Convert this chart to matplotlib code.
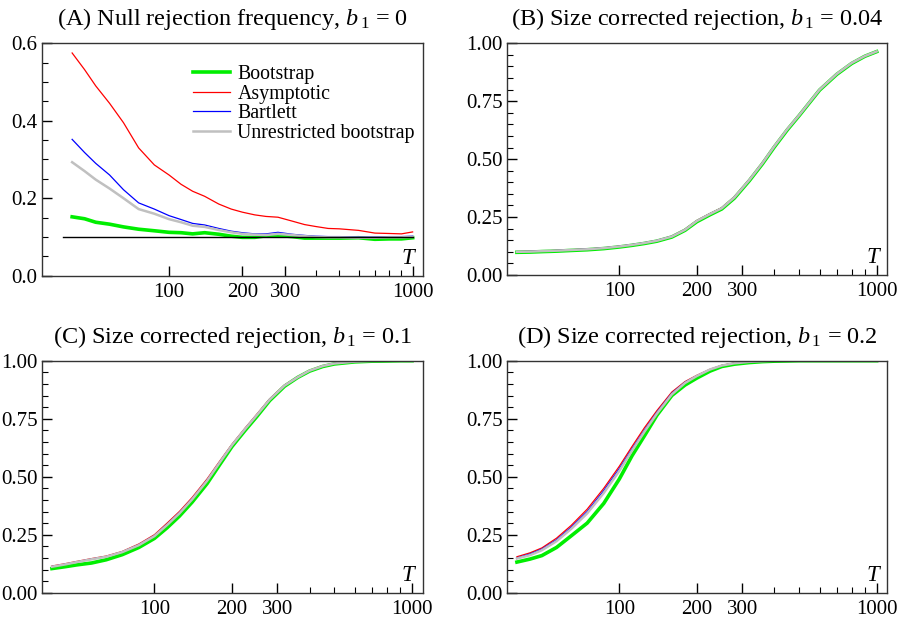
import matplotlib
matplotlib.use("Agg")
import matplotlib.pyplot as plt
from matplotlib.ticker import FixedLocator, NullFormatter, MultipleLocator, FormatStrFormatter

plt.rcParams['font.family'] = ['Liberation Serif', 'DejaVu Serif']
plt.rcParams['mathtext.fontset'] = 'custom'
plt.rcParams['mathtext.rm'] = 'Liberation Serif'
plt.rcParams['mathtext.it'] = 'Liberation Serif:italic'

# sample sizes
T = [40, 45, 50, 57, 65, 75, 87, 100, 112, 125, 140, 160, 180, 200, 225,
     250, 280, 320, 360, 400, 450, 500, 600, 700, 800, 900, 1000]

# (A) null rejection frequency
a_boot = [0.152, 0.147, 0.138, 0.133, 0.126, 0.120, 0.116, 0.112, 0.111, 0.108, 0.111, 0.107, 0.102, 0.099,
          0.099, 0.103, 0.104, 0.101, 0.097, 0.097, 0.097, 0.097, 0.098, 0.094, 0.095, 0.095, 0.098]
a_asym = [0.575, 0.532, 0.490, 0.445, 0.395, 0.330, 0.286, 0.260, 0.236, 0.218, 0.205, 0.185, 0.172, 0.164,
          0.157, 0.153, 0.151, 0.141, 0.132, 0.127, 0.122, 0.121, 0.117, 0.110, 0.109, 0.108, 0.113]
a_bart = [0.352, 0.318, 0.290, 0.260, 0.222, 0.188, 0.172, 0.155, 0.145, 0.135, 0.131, 0.122, 0.115, 0.111,
          0.108, 0.108, 0.112, 0.107, 0.104, 0.102, 0.101, 0.101, 0.100, 0.100, 0.101, 0.101, 0.102]
a_unres = [0.293, 0.270, 0.248, 0.225, 0.200, 0.172, 0.160, 0.146, 0.138, 0.129, 0.126, 0.118, 0.112, 0.108,
           0.106, 0.105, 0.108, 0.105, 0.102, 0.100, 0.099, 0.099, 0.098, 0.098, 0.099, 0.099, 0.100]
nominal = 0.1

# (B) size corrected, b1 = 0.04
b_boot = [0.098, 0.099, 0.101, 0.103, 0.106, 0.109, 0.114, 0.121, 0.128, 0.136, 0.146, 0.164, 0.193, 0.230,
          0.260, 0.285, 0.332, 0.407, 0.480, 0.552, 0.627, 0.688, 0.798, 0.866, 0.913, 0.944, 0.964]
b_asym = [0.101, 0.102, 0.104, 0.106, 0.109, 0.112, 0.117, 0.124, 0.131, 0.139, 0.149, 0.167, 0.197, 0.235,
          0.265, 0.290, 0.337, 0.412, 0.485, 0.556, 0.631, 0.691, 0.800, 0.868, 0.915, 0.945, 0.965]
b_bart = [0.101, 0.102, 0.104, 0.106, 0.109, 0.112, 0.117, 0.124, 0.131, 0.139, 0.149, 0.167, 0.196, 0.234,
          0.264, 0.289, 0.336, 0.411, 0.484, 0.555, 0.630, 0.690, 0.800, 0.868, 0.915, 0.945, 0.965]
b_unres = [0.100, 0.101, 0.103, 0.105, 0.108, 0.111, 0.116, 0.123, 0.130, 0.138, 0.148, 0.166, 0.195, 0.233,
           0.263, 0.288, 0.335, 0.410, 0.483, 0.555, 0.630, 0.690, 0.800, 0.868, 0.915, 0.945, 0.965]

# (C) size corrected, b1 = 0.1
c_boot = [0.104, 0.112, 0.120, 0.128, 0.142, 0.164, 0.195, 0.234, 0.280, 0.330, 0.390, 0.470, 0.555, 0.630,
          0.700, 0.760, 0.828, 0.890, 0.928, 0.955, 0.975, 0.986, 0.995, 0.998, 0.999, 1.000, 1.000]
c_asym = [0.115, 0.125, 0.135, 0.147, 0.158, 0.178, 0.210, 0.250, 0.300, 0.350, 0.410, 0.490, 0.570, 0.640,
          0.710, 0.770, 0.835, 0.895, 0.930, 0.958, 0.978, 0.988, 0.996, 0.999, 1.000, 1.000, 1.000]
c_bart = [0.113, 0.123, 0.133, 0.145, 0.156, 0.176, 0.207, 0.246, 0.295, 0.345, 0.405, 0.485, 0.566, 0.637,
          0.707, 0.767, 0.833, 0.894, 0.929, 0.957, 0.977, 0.988, 0.996, 0.999, 1.000, 1.000, 1.000]
c_unres = [0.112, 0.122, 0.132, 0.144, 0.155, 0.175, 0.205, 0.244, 0.292, 0.342, 0.402, 0.482, 0.564, 0.636,
           0.706, 0.766, 0.832, 0.893, 0.929, 0.957, 0.977, 0.988, 0.996, 0.999, 1.000, 1.000, 1.000]

# (D) size corrected, b1 = 0.2
d_boot = [0.132, 0.145, 0.160, 0.195, 0.245, 0.300, 0.385, 0.490, 0.590, 0.675, 0.765, 0.850, 0.895, 0.925,
          0.955, 0.975, 0.985, 0.992, 0.996, 0.998, 0.999, 1.000, 1.000, 1.000, 1.000, 1.000, 1.000]
d_asym = [0.155, 0.172, 0.193, 0.235, 0.290, 0.360, 0.450, 0.545, 0.630, 0.710, 0.785, 0.865, 0.910, 0.937,
          0.963, 0.980, 0.990, 0.996, 0.998, 1.000, 1.000, 1.000, 1.000, 1.000, 1.000, 1.000, 1.000]
d_bart = [0.150, 0.167, 0.188, 0.228, 0.282, 0.350, 0.440, 0.535, 0.620, 0.700, 0.778, 0.860, 0.907, 0.935,
          0.962, 0.979, 0.989, 0.995, 0.998, 1.000, 1.000, 1.000, 1.000, 1.000, 1.000, 1.000, 1.000]
d_unres = [0.147, 0.162, 0.183, 0.222, 0.275, 0.342, 0.430, 0.525, 0.612, 0.693, 0.772, 0.855, 0.904, 0.934,
           0.962, 0.979, 0.989, 0.995, 0.998, 1.000, 1.000, 1.000, 1.000, 1.000, 1.000, 1.000, 1.000]

labels = ["Bootstrap", "Asymptotic", "Bartlett", "Unrestricted bootstrap"]
colors = ["#00ee00", "#ff0000", "#0000ff", "#c0c0c0"]
widths = [2.6, 0.9, 0.9, 1.8]

titles = [r"(A) Null rejection frequency, $b_{\,1}$ = 0",
          r"(B) Size corrected rejection, $b_{\,1}$ = 0.04",
          r"(C) Size corrected rejection, $b_{\,1}$ = 0.1",
          r"(D) Size corrected rejection, $b_{\,1}$ = 0.2"]
panels = [[a_boot, a_asym, a_bart, a_unres],
          [b_boot, b_asym, b_bart, b_unres],
          [c_boot, c_asym, c_bart, c_unres],
          [d_boot, d_asym, d_bart, d_unres]]

fig = plt.figure(figsize=(9, 6.21), dpi=100)
W, H = 900, 621
boxes = [(41.7, 43.3, 422.7, 275.7), (506.7, 43.3, 887.3, 275.0),
         (41.7, 360.7, 422.7, 592.7), (506.7, 360.7, 887.3, 592.7)]

for i, (series, title, box) in enumerate(zip(panels, titles, boxes)):
    x0, y0, x1, y1 = box
    ax = fig.add_axes([x0 / W, 1 - y1 / H, (x1 - x0) / W, (y1 - y0) / H])
    for ys, lab, c, lw in zip(series, labels, colors, widths):
        ax.plot(T, ys, color=c, lw=lw, label=lab)
    ax.set_xscale('log')
    if i == 0:
        ax.plot([36.8, 1000], [nominal, nominal], color='black', lw=1.0)
        ax.set_xlim(30, 1100)
        ax.set_ylim(0, 0.6)
        ax.yaxis.set_major_locator(MultipleLocator(0.2))
        ax.yaxis.set_minor_locator(MultipleLocator(0.05))
        ax.yaxis.set_major_formatter(FormatStrFormatter('%.1f'))
        ax.legend(loc='upper left', bbox_to_anchor=(0.36, 0.965), frameon=False,
                  fontsize=14.3, handlelength=1.85, handletextpad=0.4,
                  labelspacing=0.02, borderpad=0.2)
    else:
        ax.set_xlim(36.5, 1100)
        ax.set_ylim(0, 1.0)
        ax.yaxis.set_major_locator(MultipleLocator(0.25))
        ax.yaxis.set_minor_locator(MultipleLocator(0.05))
        ax.yaxis.set_major_formatter(FormatStrFormatter('%.2f'))
    ax.xaxis.set_major_locator(FixedLocator([100, 200, 300, 1000]))
    ax.xaxis.set_major_formatter(FormatStrFormatter('%d'))
    ax.xaxis.set_minor_locator(FixedLocator([400, 500, 600, 700, 800, 900]))
    ax.xaxis.set_minor_formatter(NullFormatter())
    ax.tick_params(which='major', direction='in', length=7, width=1.0, labelsize=15, pad=3)
    ax.tick_params(which='minor', direction='in', length=4, width=0.8)
    ax.tick_params(axis='x', which='both', pad=5)
    for s in ax.spines.values():
        s.set_color('#333333')
        s.set_linewidth(1.0)
    ax.text(0.961, 0.076, "T", transform=ax.transAxes, fontsize=16.5,
            style='italic', ha='center', va='center')
    ax.set_title(title, fontsize=17.5, pad=13)

fig.savefig("out.png", dpi=100)
